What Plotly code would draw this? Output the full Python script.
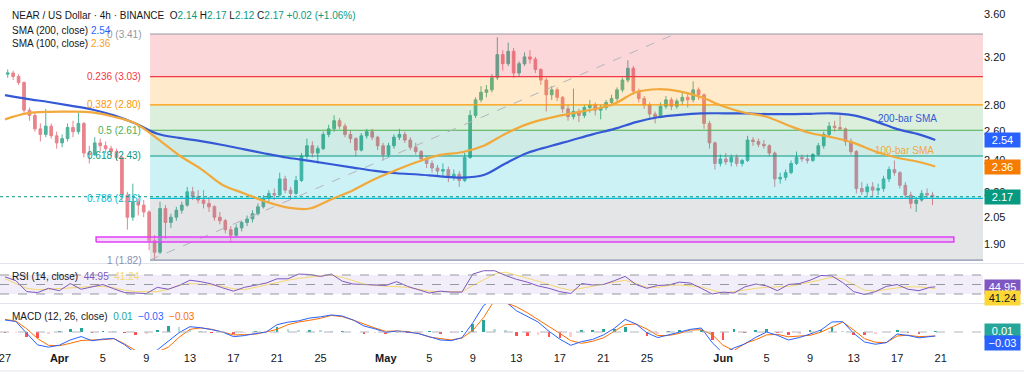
import numpy as np
import pandas as pd
import plotly.graph_objects as go

# ---------------- data ----------------
# 12-hour candles, 2025-03-27 00:00 .. 2025-06-20 00:00
OPEN = [3.05,3.06,3.03,2.98,2.76,2.72,2.62,2.58,2.64,2.57, 2.52,2.55,2.63,2.60,2.66,2.45,2.44,2.52,2.50,2.48,
        2.46,2.42,2.18,2.05,2.14,2.12,2.08,1.92,1.86,2.10, 2.02,2.05,2.09,2.12,2.20,2.17,2.15,2.13,2.11,2.05,
        2.03,1.98,1.95,1.99,2.02,2.04,2.07,2.11,2.16,2.19, 2.18,2.28,2.21,2.19,2.27,2.43,2.50,2.45,2.48,2.58,
        2.62,2.68,2.64,2.58,2.55,2.47,2.57,2.60,2.56,2.50, 2.44,2.50,2.56,2.58,2.54,2.49,2.46,2.41,2.38,2.35,
        2.33,2.34,2.29,2.31,2.27,2.42,2.72,2.84,2.90,2.92, 3.02,3.22,3.14,3.25,3.06,3.14,3.20,3.18,3.09,3.00,
        2.88,2.92,2.86,2.77,2.71,2.75,2.72,2.78,2.80,2.76, 2.78,2.82,2.85,2.92,3.00,3.10,2.91,2.85,2.80,2.73,
        2.71,2.79,2.84,2.79,2.83,2.86,2.84,2.92,2.88,2.66, 2.52,2.38,2.41,2.39,2.42,2.38,2.40,2.54,2.53,2.51,
        2.50,2.45,2.28,2.29,2.32,2.38,2.42,2.41,2.40,2.44, 2.50,2.58,2.64,2.63,2.62,2.53,2.46,2.22,2.20,2.23,
        2.21,2.22,2.28,2.34,2.32,2.24,2.18,2.13,2.15,2.19, 2.18]
HIGH = [3.09,3.08,3.05,2.99,2.78,2.74,2.66,2.77,2.66,2.60, 2.58,2.66,2.68,2.74,2.67,2.50,2.56,2.55,2.53,2.50,
        2.48,2.43,2.20,2.25,2.16,2.15,2.09,1.95,2.14,2.12, 2.07,2.11,2.14,2.23,2.23,2.21,2.21,2.17,2.12,2.08,
        2.04,2.00,2.01,2.03,2.06,2.09,2.13,2.18,2.21,2.22, 2.32,2.30,2.23,2.30,2.45,2.55,2.53,2.50,2.60,2.65,
        2.72,2.70,2.66,2.61,2.56,2.59,2.62,2.62,2.57,2.52, 2.52,2.58,2.62,2.60,2.56,2.52,2.47,2.43,2.40,2.37,
        2.38,2.36,2.34,2.33,2.45,2.76,2.86,2.95,2.96,3.05, 3.38,3.26,3.33,3.28,3.16,3.24,3.26,3.20,3.10,3.02,
        2.95,2.94,2.87,2.80,2.93,2.77,2.80,2.84,2.82,2.80, 2.84,2.88,2.94,3.02,3.17,3.12,2.93,2.87,2.82,2.75,
        2.82,2.87,2.86,2.85,2.90,2.89,2.99,2.94,2.89,2.68, 2.53,2.44,2.45,2.44,2.44,2.41,2.57,2.56,2.55,2.54,
        2.51,2.46,2.32,2.34,2.40,2.46,2.44,2.44,2.45,2.52, 2.60,2.67,2.68,2.72,2.63,2.55,2.47,2.26,2.25,2.26,
        2.25,2.30,2.36,2.40,2.33,2.26,2.20,2.17,2.21,2.22, 2.20]
LOW = [3.02,3.00,2.96,2.74,2.68,2.60,2.53,2.56,2.55,2.48, 2.49,2.53,2.56,2.58,2.42,2.38,2.43,2.46,2.45,2.43,
       2.40,2.14,1.98,2.03,2.06,2.05,1.87,1.82,1.85,1.93, 1.99,2.03,2.07,2.11,2.15,2.13,2.10,2.08,2.03,2.01,
       1.96,1.91,1.94,1.97,2.00,2.02,2.06,2.10,2.14,2.15, 2.17,2.19,2.15,2.18,2.26,2.41,2.42,2.38,2.47,2.56,
       2.60,2.62,2.56,2.52,2.43,2.46,2.55,2.54,2.47,2.40, 2.42,2.48,2.54,2.52,2.47,2.44,2.39,2.35,2.32,2.30,
       2.29,2.26,2.27,2.23,2.26,2.41,2.70,2.82,2.86,2.90, 3.00,3.08,3.12,3.02,3.03,3.12,3.14,3.06,2.96,2.75,
       2.84,2.83,2.74,2.68,2.69,2.67,2.70,2.74,2.72,2.69, 2.76,2.79,2.83,2.90,2.98,2.88,2.82,2.77,2.70,2.66,
       2.70,2.77,2.76,2.77,2.80,2.78,2.82,2.84,2.62,2.48, 2.34,2.36,2.37,2.36,2.36,2.36,2.39,2.50,2.49,2.48,
       2.43,2.23,2.25,2.27,2.31,2.37,2.39,2.38,2.39,2.43, 2.48,2.56,2.60,2.61,2.50,2.44,2.19,2.18,2.17,2.17,
       2.18,2.20,2.26,2.30,2.22,2.16,2.10,2.08,2.14,2.16, 2.12]
CLOSE = [3.06,3.03,2.98,2.76,2.72,2.62,2.58,2.64,2.57,2.52, 2.55,2.63,2.60,2.66,2.45,2.44,2.52,2.50,2.48,2.46,
         2.42,2.18,2.05,2.14,2.12,2.08,1.92,1.86,2.10,2.02, 2.05,2.09,2.12,2.20,2.17,2.15,2.13,2.11,2.05,2.03,
         1.98,1.95,1.99,2.02,2.04,2.07,2.11,2.16,2.19,2.18, 2.28,2.21,2.19,2.27,2.43,2.50,2.45,2.48,2.58,2.62,
         2.68,2.64,2.58,2.55,2.47,2.57,2.60,2.56,2.50,2.44, 2.50,2.56,2.58,2.54,2.49,2.46,2.41,2.38,2.35,2.33,
         2.34,2.29,2.31,2.27,2.42,2.72,2.84,2.90,2.92,3.02, 3.22,3.14,3.25,3.06,3.14,3.20,3.18,3.09,3.00,2.88,
         2.92,2.86,2.77,2.71,2.75,2.72,2.78,2.80,2.76,2.78, 2.82,2.85,2.92,3.00,3.10,2.91,2.85,2.80,2.73,2.71,
         2.79,2.84,2.79,2.83,2.86,2.84,2.92,2.88,2.66,2.52, 2.38,2.41,2.39,2.42,2.38,2.40,2.54,2.53,2.51,2.50,
         2.45,2.28,2.29,2.32,2.38,2.42,2.41,2.40,2.44,2.50, 2.58,2.64,2.63,2.62,2.53,2.46,2.22,2.20,2.23,2.21,
         2.22,2.28,2.34,2.32,2.24,2.18,2.13,2.15,2.19,2.18, 2.17]

# moving averages sampled every 2 days from 2025-03-27, last point 2025-06-20 12:00
SMA200 = [2.878,2.848,2.823,2.795,2.765,2.72,2.66,2.585,2.555,2.532,
          2.505,2.475,2.445,2.418,2.397,2.375,2.353,2.332,2.316,2.308,
          2.296,2.288,2.305,2.38,2.45,2.495,2.537,2.58,2.62,2.67,
          2.706,2.724,2.735,2.736,2.735,2.73,2.729,2.732,2.736,2.72,
          2.675,2.618,2.58,2.54]
SMA100 = [2.69,2.735,2.747,2.748,2.743,2.71,2.66,2.55,2.435,2.345,
          2.242,2.19,2.14,2.105,2.10,2.155,2.21,2.28,2.338,2.393,
          2.437,2.455,2.50,2.585,2.655,2.70,2.734,2.765,2.81,2.90,
          2.925,2.907,2.86,2.79,2.74,2.71,2.645,2.59,2.56,2.52,
          2.46,2.418,2.39,2.36]

# daily oscillator readings from 2025-03-27, last point 2025-06-20 12:00
RSI = [66,58,35,33,42,37,52,40,45,50, 41,33,32,31,44,40,48,59,56,51,
       43,36,44,48,53,62,62,72,71,67, 72,57,51,50,49,48,56,46,39,32,
       36,34,34,72,79,79,69,61,55,47, 42,35,31,52,49,50,58,67,50,42,
       48,49,55,53,42,30,34,32,45,51, 47,37,50,52,59,69,68,54,35,29,
       35,46,50,40,37,44,44.95]
RSI_MA = [62,52,42,39,40,41,42,44,46,46, 43,38,35,35,35,40,48,52,51,49,
          46,41,39,44,50,54,59,63,66,68, 70,65,58,51,48,47,46,44,40,36,
          35,35,35,48,60,72,76,70,63,57, 50,43,38,42,47,50,55,59,52,44,
          44,48,49,47,45,38,32,35,39,42, 44,45,46,50,55,59,65,62,50,38,
          36,40,43,45,45,43,41.24]
MACD = [0.09,0.079,-0.01,-0.097,-0.114,-0.099,-0.06,-0.034,-0.066,-0.053,
        -0.049,-0.096,-0.16,-0.18,-0.135,-0.07,-0.005,0.04,0.032,0.018,
        0.0,-0.035,-0.027,-0.012,0.0,0.055,0.074,0.084,0.105,0.114,
        0.128,0.12,0.09,0.045,0.024,-0.003,0.007,0.0,-0.012,-0.035,
        -0.06,-0.065,-0.043,0.07,0.2,0.26,0.23,0.16,0.115,0.075,
        0.005,-0.054,-0.1,-0.072,-0.056,-0.022,0.027,0.095,0.06,-0.006,
        -0.042,-0.021,0.003,0.02,0.03,-0.08,-0.16,-0.12,-0.09,-0.04,
        0.0,-0.025,-0.06,-0.042,-0.015,0.015,0.075,0.078,-0.01,-0.075,
        -0.092,-0.08,-0.015,-0.026,-0.044,-0.032,-0.03]
SIGNAL = [0.095,0.082,0.024,-0.05,-0.1,-0.103,-0.085,-0.064,-0.06,-0.058,
          -0.05,-0.09,-0.14,-0.17,-0.15,-0.115,-0.04,0.02,0.031,0.02,
          0.0,-0.022,-0.02,-0.016,0.0,0.02,0.055,0.075,0.088,0.103,
          0.125,0.115,0.09,0.058,0.03,0.005,0.008,0.003,-0.01,-0.038,
          -0.05,-0.06,-0.045,0.012,0.11,0.24,0.22,0.19,0.145,0.095,
          0.045,-0.011,-0.065,-0.085,-0.07,-0.044,0.005,0.055,0.06,0.022,
          -0.027,-0.026,-0.01,0.015,0.017,-0.02,-0.1,-0.14,-0.086,-0.058,
          -0.022,-0.018,-0.036,-0.03,-0.025,-0.001,0.04,0.075,0.015,-0.05,
          -0.077,-0.08,-0.03,-0.024,-0.035,-0.032,-0.03]
HIST = [-0.005,-0.003,-0.034,-0.047,-0.014,0.004,0.025,0.03,-0.006,0.005,
        0.001,-0.006,-0.02,-0.01,0.015,0.045,0.035,0.02,0.001,-0.002,
        0.0,-0.013,-0.007,0.004,0.0,0.035,0.019,0.009,0.017,0.011,
        0.003,0.005,0.0,-0.013,-0.006,-0.008,-0.001,-0.003,-0.002,0.003,
        -0.01,-0.005,0.002,0.058,0.09,0.02,0.01,-0.03,-0.03,-0.02,
        -0.04,-0.043,-0.035,0.013,0.014,0.022,0.022,0.04,0.0,-0.028,
        -0.015,0.005,0.013,0.005,0.013,-0.06,-0.06,0.02,-0.004,0.018,
        0.022,-0.007,-0.024,-0.012,0.01,0.016,0.035,0.003,-0.025,-0.025,
        -0.015,0.0,0.015,-0.002,-0.009,0.0,0.005]

# Fibonacci retracement
FIB_RATIOS = ["0", "0.236", "0.382", "0.5", "0.618", "0.786", "1"]
FIB_PRICES = [3.41, 3.03, 2.80, 2.61, 2.43, 2.16, 1.82]
FIB_LINE_COLORS = ["#9598a1", "#f23645", "#ff9800", "#4caf50", "#089981", "#00bcd4", "#8a90ad"]
FIB_FILL_COLORS = ["rgba(242,54,69,0.2)", "rgba(255,152,0,0.2)", "rgba(76,175,80,0.2)",
                   "rgba(8,153,129,0.2)", "rgba(0,188,212,0.2)", "rgba(120,123,134,0.2)"]
FIB_START = "2025-04-09 08:00"
TREND_X = ["2025-04-09 08:00", "2025-05-27 14:00"]
TREND_Y = [1.82, 3.41]
SUPPORT_X = ["2025-04-04 09:00", "2025-06-22 05:00"]
SUPPORT_Y = [1.914, 1.940]
LAST_PRICE = 2.17

X_START = "2025-03-26 13:00"
X_END = "2025-06-24 21:20"

TICK_DATES = ["2025-03-27", "2025-04-01", "2025-04-05", "2025-04-09", "2025-04-13", "2025-04-17",
              "2025-04-21", "2025-04-25", "2025-05-01", "2025-05-05", "2025-05-09", "2025-05-13",
              "2025-05-17", "2025-05-21", "2025-05-25", "2025-06-01", "2025-06-05", "2025-06-09",
              "2025-06-13", "2025-06-17", "2025-06-21"]
TICK_TEXT = ["27", "<b>Apr</b>", "5", "9", "13", "17", "21", "25", "<b>May</b>", "5", "9", "13",
             "17", "21", "25", "<b>Jun</b>", "5", "9", "13", "17", "21"]
PRICE_TICKS = [1.90, 2.05, 2.20, 2.40, 2.60, 2.80, 3.20, 3.60]

# ---------------- geometry ----------------
W, H = 1024, 374
ML, MR, MT, MB = 0, 41, 0, 24
PW, PH = W - ML - MR, H - MT - MB


def px(xp):
    return xp / PW


def py(yp):
    return (PH - yp) / PH


FONT = "Liberation Sans"
TXT = "#131722"
FS = 10

candle_x = pd.date_range("2025-03-27 06:00", periods=len(CLOSE), freq="12h")
sma_x = list(pd.date_range("2025-03-27", periods=len(SMA200) - 1, freq="2D")) + [pd.Timestamp("2025-06-20 12:00")]
ind_x = list(pd.date_range("2025-03-27", periods=len(RSI) - 1, freq="D")) + [pd.Timestamp("2025-06-20 12:00")]

fig = go.Figure()

# fib zones
for i in range(len(FIB_PRICES) - 1):
    fig.add_trace(go.Scatter(
        x=[FIB_START, X_END, X_END, FIB_START, FIB_START],
        y=[FIB_PRICES[i], FIB_PRICES[i], FIB_PRICES[i + 1], FIB_PRICES[i + 1], FIB_PRICES[i]],
        fill="toself", fillcolor=FIB_FILL_COLORS[i], line=dict(width=0), mode="lines",
        hoverinfo="skip", xaxis="x", yaxis="y"))
for p, c in zip(FIB_PRICES, FIB_LINE_COLORS):
    fig.add_trace(go.Scatter(x=[FIB_START, X_END], y=[p, p], mode="lines",
                             line=dict(color=c, width=1.2), hoverinfo="skip", xaxis="x", yaxis="y"))

# trend dashed line
fig.add_trace(go.Scatter(x=TREND_X, y=TREND_Y, mode="lines",
                         line=dict(color="#b2b5be", width=1, dash="dash"), hoverinfo="skip"))

# support rectangle
fig.add_trace(go.Scatter(
    x=[SUPPORT_X[0], SUPPORT_X[1], SUPPORT_X[1], SUPPORT_X[0], SUPPORT_X[0]],
    y=[SUPPORT_Y[0], SUPPORT_Y[0], SUPPORT_Y[1], SUPPORT_Y[1], SUPPORT_Y[0]],
    fill="toself", fillcolor="rgba(233,150,240,0.35)", mode="lines",
    line=dict(color="#e040fb", width=1.5), hoverinfo="skip"))

# last price dotted line
fig.add_trace(go.Scatter(x=[X_START, X_END], y=[LAST_PRICE, LAST_PRICE], mode="lines",
                         line=dict(color="#089981", width=1, dash="dot"), hoverinfo="skip"))

# candles
fig.add_trace(go.Candlestick(
    x=candle_x, open=OPEN, high=HIGH, low=LOW, close=CLOSE,
    increasing=dict(line=dict(color="#4db39b", width=1), fillcolor="#4db39b"),
    decreasing=dict(line=dict(color="#e8848c", width=1), fillcolor="#e8848c"),
    whiskerwidth=0, xaxis="x", yaxis="y"))

# SMAs
fig.add_trace(go.Scatter(x=sma_x, y=SMA200, mode="lines", line=dict(color="#3559d6", width=2.2),
                         line_shape="spline", hoverinfo="skip"))
fig.add_trace(go.Scatter(x=sma_x, y=SMA100, mode="lines", line=dict(color="#f2a93b", width=2.2),
                         line_shape="spline", hoverinfo="skip"))

# RSI pane
fig.add_trace(go.Scatter(x=ind_x, y=RSI_MA, mode="lines", line=dict(color="#f5d76e", width=1),
                         xaxis="x", yaxis="y2", hoverinfo="skip"))
fig.add_trace(go.Scatter(x=ind_x, y=RSI, mode="lines", line=dict(color="#7e57c2", width=1),
                         xaxis="x", yaxis="y2", hoverinfo="skip"))

# MACD pane
hist_colors = []
prev = 0.0
for h in HIST:
    if h >= 0:
        hist_colors.append("#26a69a" if h >= prev else "#b2dfdb")
    else:
        hist_colors.append("#ffcdd2" if h > prev else "#ff5252")
    prev = h
fig.add_trace(go.Bar(x=ind_x, y=HIST, marker=dict(color=hist_colors, line=dict(width=0)),
                     width=0.25 * 86400000, xaxis="x", yaxis="y3", hoverinfo="skip"))
fig.add_trace(go.Scatter(x=ind_x, y=SIGNAL, mode="lines", line=dict(color="#ff6d00", width=1),
                         xaxis="x", yaxis="y3", hoverinfo="skip"))
fig.add_trace(go.Scatter(x=ind_x, y=MACD, mode="lines", line=dict(color="#2962ff", width=1),
                         xaxis="x", yaxis="y3", hoverinfo="skip"))

# ---------------- layout ----------------
main_bot = 263
rsi_top, rsi_bot = 264, 303
macd_top, macd_bot = 304, PH

p_top = 3.41 * np.exp(34 / 360)
p_bot = 3.41 * np.exp(-(main_bot - 34) / 360)

rsi_px = 19 / 40.0
rsi_range = [30 - (rsi_bot - 294) / rsi_px, 70 + (275 - rsi_top) / rsi_px]
macd_scale = 133.0
macd_range = [-(macd_bot - 332) / macd_scale, (332 - macd_top) / macd_scale]

fig.update_layout(
    width=W, height=H, margin=dict(l=ML, r=MR, t=MT, b=MB, autoexpand=False),
    paper_bgcolor="white", plot_bgcolor="white", showlegend=False,
    font=dict(family=FONT, size=FS, color=TXT),
    bargap=0,
    xaxis=dict(type="date", range=[X_START, X_END], anchor="y3", showgrid=False, zeroline=False,
               tickvals=TICK_DATES, ticktext=TICK_TEXT, ticks="", showline=False, automargin=False,
               ticklabeloverflow="allow",
               tickfont=dict(size=11, color=TXT), rangeslider=dict(visible=False), fixedrange=True),
    yaxis=dict(type="log", domain=[py(main_bot), 1], range=[np.log10(p_bot), np.log10(p_top)],
               side="right", showgrid=False, zeroline=False, tickvals=PRICE_TICKS, automargin=False,
               ticktext=[f"{v:.2f}" for v in PRICE_TICKS], ticks="", showline=False,
               tickfont=dict(size=11, color=TXT)),
    yaxis2=dict(domain=[py(rsi_bot), py(rsi_top)], range=rsi_range, anchor="x", side="right",
                showgrid=False, zeroline=False, showticklabels=False, automargin=False),
    yaxis3=dict(domain=[0, py(macd_top)], range=macd_range, anchor="x", side="right",
                showgrid=False, zeroline=False, showticklabels=False, automargin=False),
)

shapes = []
# RSI band and levels
shapes.append(dict(type="rect", xref="paper", yref="y2", x0=0, x1=1, y0=30, y1=70,
                   fillcolor="rgba(126,87,194,0.1)", line=dict(width=0), layer="below"))
for lv in (70, 50, 30):
    shapes.append(dict(type="line", xref="paper", yref="y2", x0=0, x1=1, y0=lv, y1=lv,
                       line=dict(color="#9598a1", width=1, dash="dash")))
# MACD zero line
shapes.append(dict(type="line", xref="paper", yref="y3", x0=0, x1=1, y0=0, y1=0,
                   line=dict(color="#b2b5be", width=1, dash="dash")))
# pane separators
for yy in (main_bot + 0.5, rsi_bot + 0.5, PH + 21):
    shapes.append(dict(type="line", xref="paper", yref="paper", x0=0, x1=W / PW,
                       y0=py(yy), y1=py(yy), line=dict(color="#e0e3eb", width=1)))
fig.update_layout(shapes=shapes)

ann = []
# fib labels
label_x = "2025-04-08 16:00"
for r, p, c in zip(FIB_RATIOS, FIB_PRICES, FIB_LINE_COLORS):
    ann.append(dict(x=label_x, y=np.log10(p), xref="x", yref="y", text=f"{r} ({p:.2f})",
                    showarrow=False, xanchor="right", yanchor="middle",
                    font=dict(size=FS, color=c)))
# SMA name tags
ann.append(dict(x="2025-06-17 22:00", y=np.log10(2.70), xref="x", yref="y", text="200-bar SMA",
                showarrow=False, font=dict(size=FS, color="#3559d6")))
ann.append(dict(x="2025-06-17 17:00", y=np.log10(2.47), xref="x", yref="y", text="100-bar SMA",
                showarrow=False, font=dict(size=FS, color="#f2a93b")))

# legends
G = "#089981"
ann.append(dict(x=px(10), y=py(16), xref="paper", yref="paper", xanchor="left", yanchor="middle",
                showarrow=False, font=dict(size=FS, color=TXT),
                text=("NEAR / US Dollar · 4h · BINANCE  "
                      f"O<span style='color:{G}'>2.14</span> H<span style='color:{G}'>2.17</span> "
                      f"L<span style='color:{G}'>2.12</span> C<span style='color:{G}'>2.17</span> "
                      f"<span style='color:{G}'>+0.02 (+1.06%)</span>")))
ann.append(dict(x=px(10), y=py(30), xref="paper", yref="paper", xanchor="left", yanchor="middle",
                showarrow=False, font=dict(size=FS, color=TXT),
                text="SMA (200, close) <span style='color:#2962ff'>2.54</span>"))
ann.append(dict(x=px(10), y=py(43), xref="paper", yref="paper", xanchor="left", yanchor="middle",
                showarrow=False, font=dict(size=FS, color=TXT),
                text="SMA (100, close) <span style='color:#f7a21b'>2.36</span>"))
ann.append(dict(x=px(10), y=py(276), xref="paper", yref="paper", xanchor="left", yanchor="middle",
                showarrow=False, font=dict(size=FS, color=TXT),
                text="RSI (14, close)  <span style='color:#7e57c2'>44.95</span>  "
                     "<span style='color:#f5d76e'>41.24</span>"))
ann.append(dict(x=px(10), y=py(316), xref="paper", yref="paper", xanchor="left", yanchor="middle",
                showarrow=False, font=dict(size=FS, color=TXT),
                text="MACD (12, 26, close)  <span style='color:#26a69a'>0.01</span>  "
                     "<span style='color:#2962ff'>−0.03</span>  <span style='color:#ff6d00'>−0.03</span>"))

# right-side value tags
def tag(y, yref, text, bg, fg="white", yshift=0):
    return dict(x=1, xref="paper", y=y, yref=yref, xanchor="left", yanchor="middle", xshift=1,
                yshift=yshift, text=text, showarrow=False, bgcolor=bg, width=33, height=12,
                align="center", font=dict(size=11, color=fg), borderpad=1)

ann.append(tag(np.log10(2.54), "y", "2.54", "#2962ff"))
ann.append(tag(np.log10(2.36), "y", "2.36", "#f57c00"))
ann.append(tag(np.log10(2.17), "y", "2.17", "#089981"))
ann.append(tag(44.95, "y2", "44.95", "#7e57c2"))
ann.append(tag(41.24, "y2", "41.24", "#fdd835", fg=TXT, yshift=-9))
ann.append(tag(0.01, "y3", "0.01", "#26a69a"))
ann.append(tag(-0.03, "y3", "−0.03", "#2962ff", yshift=-7))

fig.update_layout(annotations=ann)

fig.write_html("out.html", config={"displayModeBar": False},
               post_script="document.body.style.margin='0';document.body.style.padding='0';")
